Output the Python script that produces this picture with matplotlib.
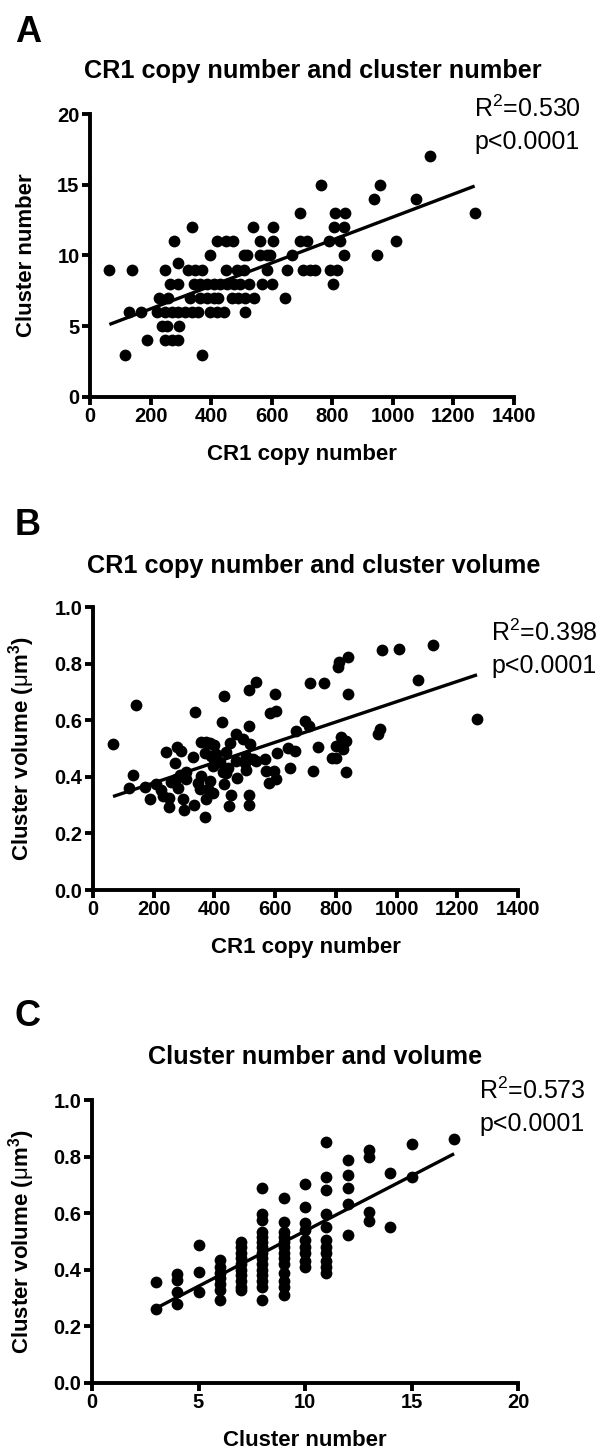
import matplotlib
matplotlib.use('Agg')
import matplotlib.pyplot as plt
import numpy as np

plt.rcParams['font.family'] = ['Liberation Sans', 'DejaVu Sans']
plt.rcParams['mathtext.fontset'] = 'custom'
plt.rcParams['mathtext.rm'] = 'Liberation Sans'
plt.rcParams['mathtext.bf'] = 'Liberation Sans:bold'
plt.rcParams['mathtext.it'] = 'Liberation Sans:italic'

# Panel A: CR1 copy number vs cluster number
a_copy = [1122,
          763, 956,
          939, 1075,
          692, 810, 841, 1270,
          338, 538, 604, 805, 838,
          279, 419, 450, 471, 562, 604, 695, 717, 788, 825, 1009,
          397, 507, 520, 562, 584, 595, 667, 838, 948,
          289,
          64, 140, 248, 325, 347, 369, 450, 485, 507, 584, 650, 703, 728, 744, 794, 816,
          265, 292, 342, 364, 386, 408, 430, 452, 474, 496, 524, 568, 601, 802,
          228, 259, 331, 364, 386, 408, 424, 468, 490, 513, 540, 645,
          130, 169, 220, 248, 270, 292, 314, 336, 358, 397, 419, 441, 513,
          237, 254, 294,
          187, 248, 270, 292,
          116, 369]
a_cluster = [17,
             15, 15,
             14, 14,
             13, 13, 13, 13,
             12, 12, 12, 12, 12,
             11, 11, 11, 11, 11, 11, 11, 11, 11, 11, 11,
             10, 10, 10, 10, 10, 10, 10, 10, 10,
             9.5,
             9, 9, 9, 9, 9, 9, 9, 9, 9, 9, 9, 9, 9, 9, 9, 9,
             8, 8, 8, 8, 8, 8, 8, 8, 8, 8, 8, 8, 8, 8,
             7, 7, 7, 7, 7, 7, 7, 7, 7, 7, 7, 7,
             6, 6, 6, 6, 6, 6, 6, 6, 6, 6, 6, 6, 6,
             5, 5, 5,
             4, 4, 4, 4,
             3, 3]

# Panel B: CR1 copy number vs cluster volume
b_copy = [66, 143, 132, 117, 170, 189, 209, 239, 225, 231, 250, 250, 269, 275,
          278, 291, 258, 285, 305, 280, 296, 300, 307, 329, 332, 337, 346, 351,
          357, 355, 373, 368, 368, 373, 379, 384, 384, 395, 395, 397, 390, 401,
          406, 417, 425, 432, 428, 430, 437, 439, 445, 450, 448, 456, 472, 472,
          474, 494, 502, 505, 505, 514, 514, 518, 513, 513, 527, 538, 538, 565,
          571, 582, 604, 598, 580, 596, 604, 607, 642, 664, 650, 668, 697, 711,
          714, 725, 741, 761, 787, 799, 802, 807, 809, 840, 816, 824, 833, 834,
          840, 939, 946, 953, 1007, 1071, 1120, 1265]
b_volume = [0.517, 0.653, 0.408, 0.359, 0.364, 0.323, 0.373, 0.488, 0.355, 0.331,
            0.325, 0.293, 0.447, 0.391, 0.507, 0.491, 0.381, 0.408, 0.417, 0.361,
            0.323, 0.282, 0.391, 0.471, 0.302, 0.630, 0.379, 0.357, 0.402, 0.523,
            0.523, 0.485, 0.258, 0.320, 0.357, 0.385, 0.521, 0.343, 0.439, 0.511,
            0.473, 0.450, 0.479, 0.452, 0.594, 0.684, 0.417, 0.373, 0.488, 0.412,
            0.432, 0.518, 0.298, 0.334, 0.550, 0.456, 0.394, 0.533, 0.450, 0.424,
            0.473, 0.580, 0.707, 0.517, 0.337, 0.302, 0.462, 0.736, 0.456, 0.462,
            0.420, 0.624, 0.633, 0.692, 0.379, 0.420, 0.391, 0.485, 0.503, 0.491,
            0.430, 0.562, 0.598, 0.580, 0.730, 0.420, 0.505, 0.731, 0.467, 0.467,
            0.509, 0.789, 0.805, 0.822, 0.541, 0.497, 0.527, 0.418, 0.692, 0.550,
            0.568, 0.849, 0.852, 0.743, 0.864, 0.604]

# Panel C: cluster number vs cluster volume
c_cluster = [3, 3,
             4, 4, 4, 4,
             5, 5, 5,
             6, 6, 6, 6, 6, 6, 6,
             7, 7, 7, 7, 7, 7, 7, 7, 7, 7,
             8, 8, 8, 8, 8, 8, 8, 8, 8, 8, 8, 8, 8, 8, 8,
             9, 9, 9, 9, 9, 9, 9, 9, 9, 9, 9, 9, 9,
             10, 10, 10, 10, 10, 10, 10, 10, 10,
             11, 11, 11, 11, 11, 11, 11, 11, 11, 11, 11,
             12, 12, 12, 12, 12,
             13, 13, 13, 13,
             14, 14,
             15, 15,
             17]
c_volume = [0.358, 0.260,
            0.385, 0.365, 0.320, 0.280,
            0.487, 0.393, 0.320,
            0.434, 0.410, 0.390, 0.370, 0.350, 0.330, 0.295,
            0.500, 0.480, 0.460, 0.440, 0.420, 0.400, 0.380, 0.360, 0.340, 0.328,
            0.690, 0.597, 0.576, 0.535, 0.517, 0.500, 0.480, 0.460, 0.440, 0.420,
            0.400, 0.380, 0.360, 0.340, 0.295,
            0.652, 0.570, 0.535, 0.517, 0.500, 0.480, 0.460, 0.440, 0.420, 0.387,
            0.360, 0.340, 0.310,
            0.703, 0.623, 0.566, 0.540, 0.505, 0.480, 0.460, 0.430, 0.410,
            0.850, 0.727, 0.682, 0.597, 0.552, 0.505, 0.480, 0.460, 0.430, 0.410,
            0.387,
            0.788, 0.735, 0.690, 0.632, 0.523,
            0.824, 0.800, 0.605, 0.573,
            0.741, 0.550,
            0.845, 0.729,
            0.861]

letters = ['A', 'B', 'C']
titles = ['CR1 copy number and cluster number',
          'CR1 copy number and cluster volume',
          'Cluster number and volume']
xlabels = ['CR1 copy number', 'CR1 copy number', 'Cluster number']
ylabels = ['Cluster number', r'Cluster volume ($\mathrm{\mu}$m$^{\mathbf{3}}$)',
           r'Cluster volume ($\mathrm{\mu}$m$^{\mathbf{3}}$)']
r2_labels = ['R$^2$=0.530', 'R$^2$=0.398', 'R$^2$=0.573']
p_labels = ['p<0.0001', 'p<0.0001', 'p<0.0001']

W, H = 604, 1456


def fx(px):
    return px / W


def fy(py):
    return 1 - py / H


fig = plt.figure(figsize=(W / 100, H / 100), dpi=100)

# axes boxes in pixels: left, top, right, bottom
boxes = [(90, 114, 514, 397), (93, 607, 518, 890), (92, 1100, 518, 1383)]
panels = [(a_copy, a_cluster), (b_copy, b_volume), (c_cluster, c_volume)]
xlims = [(0, 1400), (0, 1400), (0, 20)]
ylims = [(0, 20), (0, 1.0), (0, 1.0)]
xticks = [np.arange(0, 1401, 200), np.arange(0, 1401, 200), np.arange(0, 21, 5)]
yticks = [np.arange(0, 21, 5), np.arange(0, 1.01, 0.2), np.arange(0, 1.01, 0.2)]
yfmts = ['{:.0f}', '{:.1f}', '{:.1f}']

# text positions in pixels
letter_base = [42, 535, 1026]
title_base = [78, 573, 1064]
title_cx = [313, 314, 315]
stat_left = [474, 491, 479]
stat_base = [117, 641, 1099]

for i in range(3):
    l, t, r, b = boxes[i]
    ax = fig.add_axes([fx(l), fy(b), (r - l) / W, (b - t) / H])
    x, y = panels[i]
    ax.scatter(x, y, s=72, color='black', linewidths=0, zorder=3, clip_on=False)

    slope, icpt = np.polyfit(x, y, 1)
    xs = np.array([min(x), max(x)])
    ax.plot(xs, slope * xs + icpt, color='black', lw=2.4, zorder=4,
            solid_capstyle='butt')

    ax.set_xlim(*xlims[i])
    ax.set_ylim(*ylims[i])
    ax.set_xticks(xticks[i])
    ax.set_yticks(yticks[i])
    ax.set_xticklabels(['{:.0f}'.format(v) for v in xticks[i]])
    ax.set_yticklabels([yfmts[i].format(v) for v in yticks[i]])
    for s in ['top', 'right']:
        ax.spines[s].set_visible(False)
    for s in ['left', 'bottom']:
        ax.spines[s].set_linewidth(2.8)
    ax.tick_params(direction='out', length=5.5, width=2.8, labelsize=14.5, pad=2)
    for lab in ax.get_xticklabels() + ax.get_yticklabels():
        lab.set_fontweight('bold')

    ax.set_xlabel(xlabels[i], fontsize=16, fontweight='bold')
    ax.xaxis.set_label_coords(0.5, -47 / (b - t))
    ax.set_ylabel(ylabels[i], fontsize=16, fontweight='bold')
    ax.yaxis.set_label_coords(-(l - 37) / (r - l), 0.5)

    fig.text(fx(15), fy(letter_base[i]), letters[i], fontsize=26,
             fontweight='bold', va='baseline', ha='left')
    fig.text(fx(title_cx[i]), fy(title_base[i]), titles[i], fontsize=18.2,
             fontweight='bold', va='baseline', ha='center')
    fig.text(fx(stat_left[i]), fy(stat_base[i]), r2_labels[i], fontsize=18,
             va='baseline', ha='left')
    fig.text(fx(stat_left[i]), fy(stat_base[i] + 32), p_labels[i], fontsize=18,
             va='baseline', ha='left')

fig.savefig('out.png', dpi=100)
